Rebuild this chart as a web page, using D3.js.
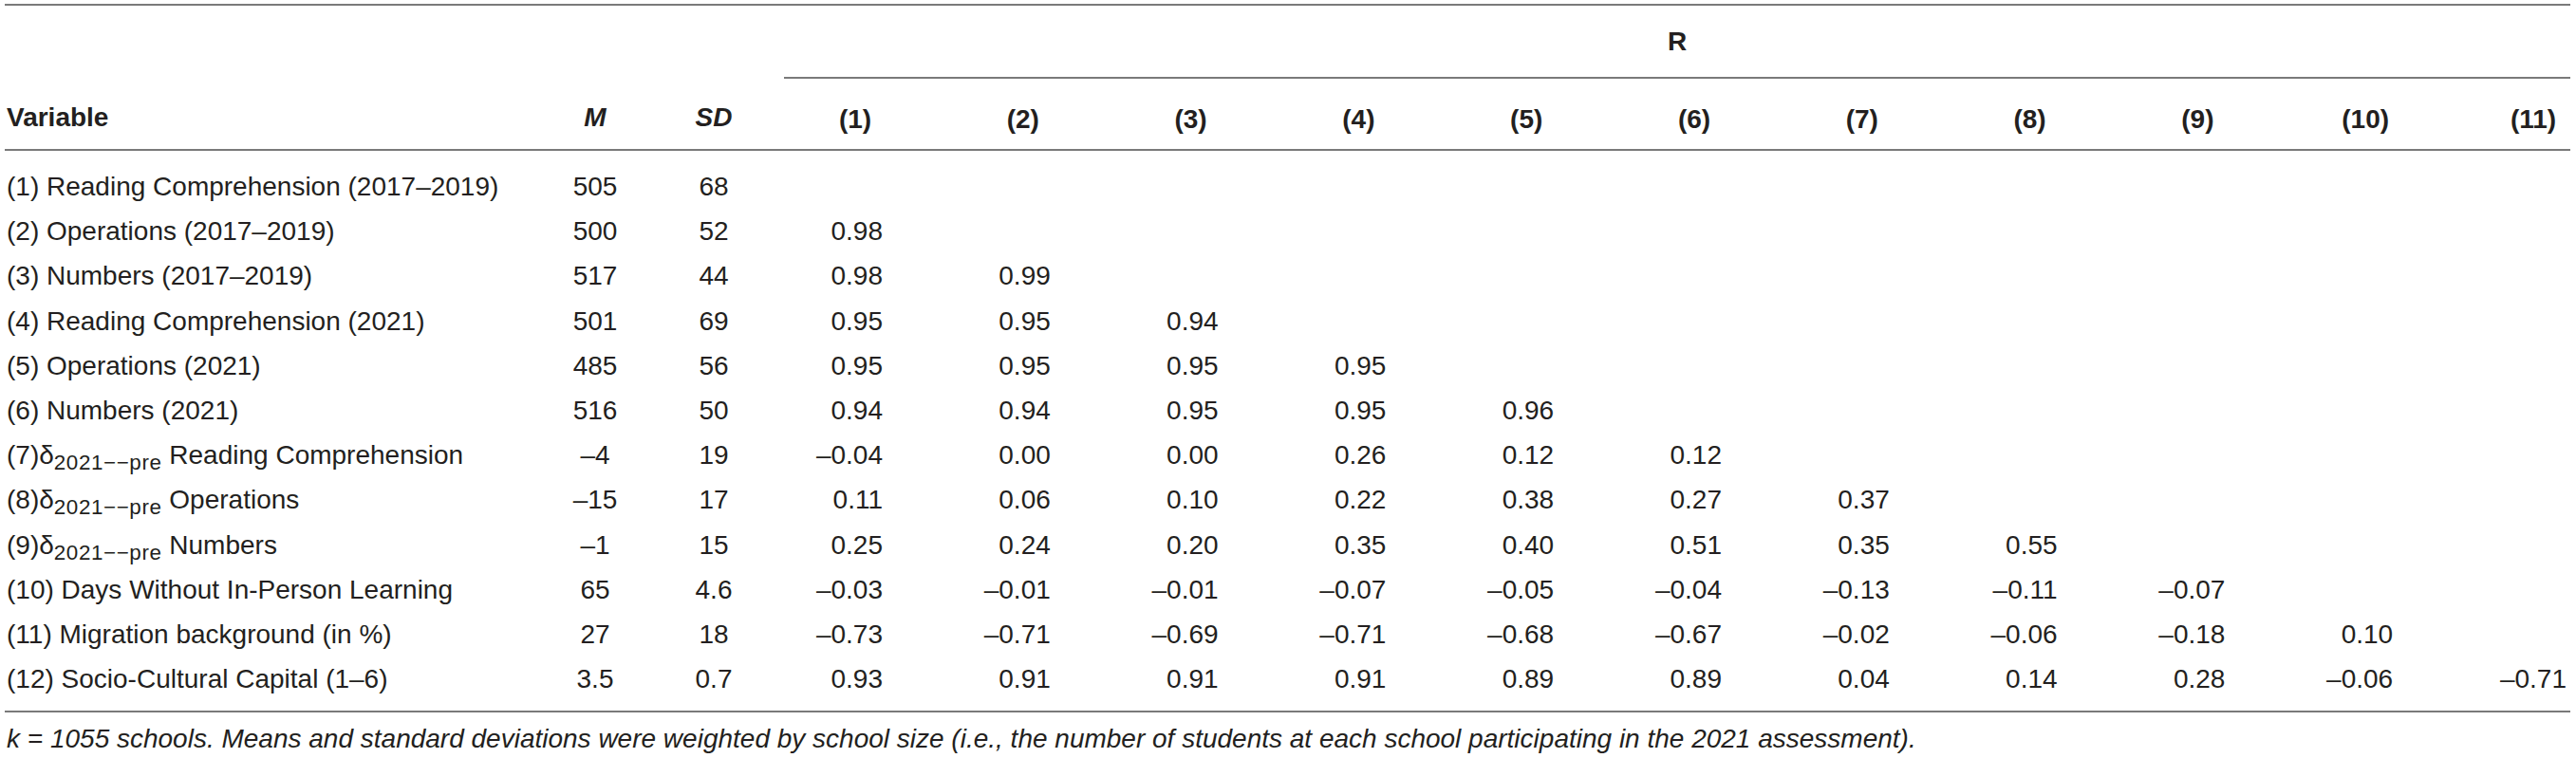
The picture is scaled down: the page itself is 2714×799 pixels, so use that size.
<!DOCTYPE html>
<html>
<head>
<meta charset="utf-8">
<script src="https://cdn.jsdelivr.net/npm/d3@7"></script>
<style>
  html, body { margin: 0; padding: 0; background: #fff; }
  svg { display: block; }
  text { font-family: "Liberation Sans", Arial, Helvetica, sans-serif; fill: #231f20; }
</style>
</head>
<body>
<svg id="chart" width="2714" height="799"></svg>
<script>
// ---------- DATA ----------
const variables = [
  "(1) Reading Comprehension (2017–2019)",
  "(2) Operations (2017–2019)",
  "(3) Numbers (2017–2019)",
  "(4) Reading Comprehension (2021)",
  "(5) Operations (2021)",
  "(6) Numbers (2021)",
  "(7)δ_{2021−−pre} Reading Comprehension",
  "(8)δ_{2021−−pre} Operations",
  "(9)δ_{2021−−pre} Numbers",
  "(10) Days Without In-Person Learning",
  "(11) Migration background (in %)",
  "(12) Socio-Cultural Capital (1–6)"
];
const means = ["505", "500", "517", "501", "485", "516", "–4", "–15", "–1", "65", "27", "3.5"];
const sds   = ["68", "52", "44", "69", "56", "50", "19", "17", "15", "4.6", "18", "0.7"];
const corrColumns = ["(1)", "(2)", "(3)", "(4)", "(5)", "(6)", "(7)", "(8)", "(9)", "(10)", "(11)"];
const corrRow2  = [0.98];
const corrRow3  = [0.98, 0.99];
const corrRow4  = [0.95, 0.95, 0.94];
const corrRow5  = [0.95, 0.95, 0.95, 0.95];
const corrRow6  = [0.94, 0.94, 0.95, 0.95, 0.96];
const corrRow7  = [-0.04, 0.00, 0.00, 0.26, 0.12, 0.12];
const corrRow8  = [0.11, 0.06, 0.10, 0.22, 0.38, 0.27, 0.37];
const corrRow9  = [0.25, 0.24, 0.20, 0.35, 0.40, 0.51, 0.35, 0.55];
const corrRow10 = [-0.03, -0.01, -0.01, -0.07, -0.05, -0.04, -0.13, -0.11, -0.07];
const corrRow11 = [-0.73, -0.71, -0.69, -0.71, -0.68, -0.67, -0.02, -0.06, -0.18, 0.10];
const corrRow12 = [0.93, 0.91, 0.91, 0.91, 0.89, 0.89, 0.04, 0.14, 0.28, -0.06, -0.71];
const correlations = [[], corrRow2, corrRow3, corrRow4, corrRow5, corrRow6, corrRow7,
                      corrRow8, corrRow9, corrRow10, corrRow11, corrRow12];
const headerVariable = "Variable";
const headerM = "M";
const headerSD = "SD";
const headerR = "R";
const footnote = "k = 1055 schools. Means and standard deviations were weighted by school size (i.e., the number of students at each school participating in the 2021 assessment).";

// ---------- LAYOUT ----------
const svg = d3.select("#chart");
const FS = 28;
const base = FS * 0.36;           // offset from visual centre to baseline
const lineColor = "#7a7a7a";
const lineW = 1.8;
const tableLeft = 5, tableRight = 2708;

const yRow = d3.scaleLinear().domain([0, variables.length - 1]).range([196, 715]);
const xCol = d3.scalePoint().domain(corrColumns).range([901, 2669]);
const xStat = d3.scalePoint().domain(["M", "SD"]).range([627, 752]);
const numRightOffset = 29;

const fmt = v => (v < 0 ? "–" : "") + d3.format(".2f")(Math.abs(v));

// rules
const rules = [
  {x1: tableLeft, x2: tableRight, y: 5},
  {x1: xCol(corrColumns[0]) - 75, x2: tableRight, y: 82},
  {x1: tableLeft, x2: tableRight, y: 158},
  {x1: tableLeft, x2: tableRight, y: 750}
];
svg.selectAll("line.rule").data(rules).join("line")
  .attr("class", "rule")
  .attr("x1", d => d.x1).attr("x2", d => d.x2)
  .attr("y1", d => d.y).attr("y2", d => d.y)
  .attr("stroke", lineColor).attr("stroke-width", lineW);

// header
const headY = 123;
svg.append("text").attr("x", 7).attr("y", headY + base)
  .attr("font-size", FS).attr("font-weight", "bold").text(headerVariable);
svg.append("text").attr("x", xStat("M")).attr("y", headY + base)
  .attr("text-anchor", "middle").attr("font-size", FS)
  .attr("font-weight", "bold").attr("font-style", "italic").text(headerM);
svg.append("text").attr("x", xStat("SD")).attr("y", headY + base)
  .attr("text-anchor", "middle").attr("font-size", FS)
  .attr("font-weight", "bold").attr("font-style", "italic").text(headerSD);
svg.append("text").attr("x", (xCol(corrColumns[0]) - 75 + tableRight) / 2).attr("y", 43 + base)
  .attr("text-anchor", "middle").attr("font-size", FS).attr("font-weight", "bold").text(headerR);
svg.selectAll("text.colhead").data(corrColumns).join("text")
  .attr("class", "colhead")
  .attr("x", d => xCol(d)).attr("y", 125 + base)
  .attr("text-anchor", "middle").attr("font-size", FS).attr("font-weight", "bold")
  .text(d => d);

// row labels
const labels = svg.selectAll("text.rowlabel").data(variables).join("text")
  .attr("class", "rowlabel")
  .attr("x", 7).attr("y", (d, i) => yRow(i) + base)
  .attr("font-size", FS);
labels.each(function(d) {
  const t = d3.select(this);
  const m = d.match(/^(.*?)_\{(.*?)\}(.*)$/);
  if (!m) { t.text(d); return; }
  t.append("tspan").text(m[1]);
  t.append("tspan").attr("font-size", FS * 0.8).attr("dy", 6).attr("letter-spacing", 0.6).text(m[2]);
  t.append("tspan").attr("dy", -6).text(m[3]);
});

// means and SDs
svg.selectAll("text.mean").data(means).join("text")
  .attr("class", "mean")
  .attr("x", xStat("M")).attr("y", (d, i) => yRow(i) + base)
  .attr("text-anchor", "middle").attr("font-size", FS).text(d => d);
svg.selectAll("text.sd").data(sds).join("text")
  .attr("class", "sd")
  .attr("x", xStat("SD")).attr("y", (d, i) => yRow(i) + base)
  .attr("text-anchor", "middle").attr("font-size", FS).text(d => d);

// correlations
const cells = [];
correlations.forEach((row, i) => row.forEach((v, j) => cells.push({i, j, v})));
svg.selectAll("text.corr").data(cells).join("text")
  .attr("class", "corr")
  .attr("x", d => xCol(corrColumns[d.j]) + numRightOffset + (d.j === corrColumns.length - 1 ? 6 : 0))
  .attr("y", d => yRow(d.i) + base)
  .attr("text-anchor", "end").attr("font-size", FS)
  .text(d => fmt(d.v));

// footnote
svg.append("text").attr("x", 7).attr("y", 778 + base)
  .attr("font-size", FS).attr("font-style", "italic").text(footnote);
</script>
</body>
</html>
